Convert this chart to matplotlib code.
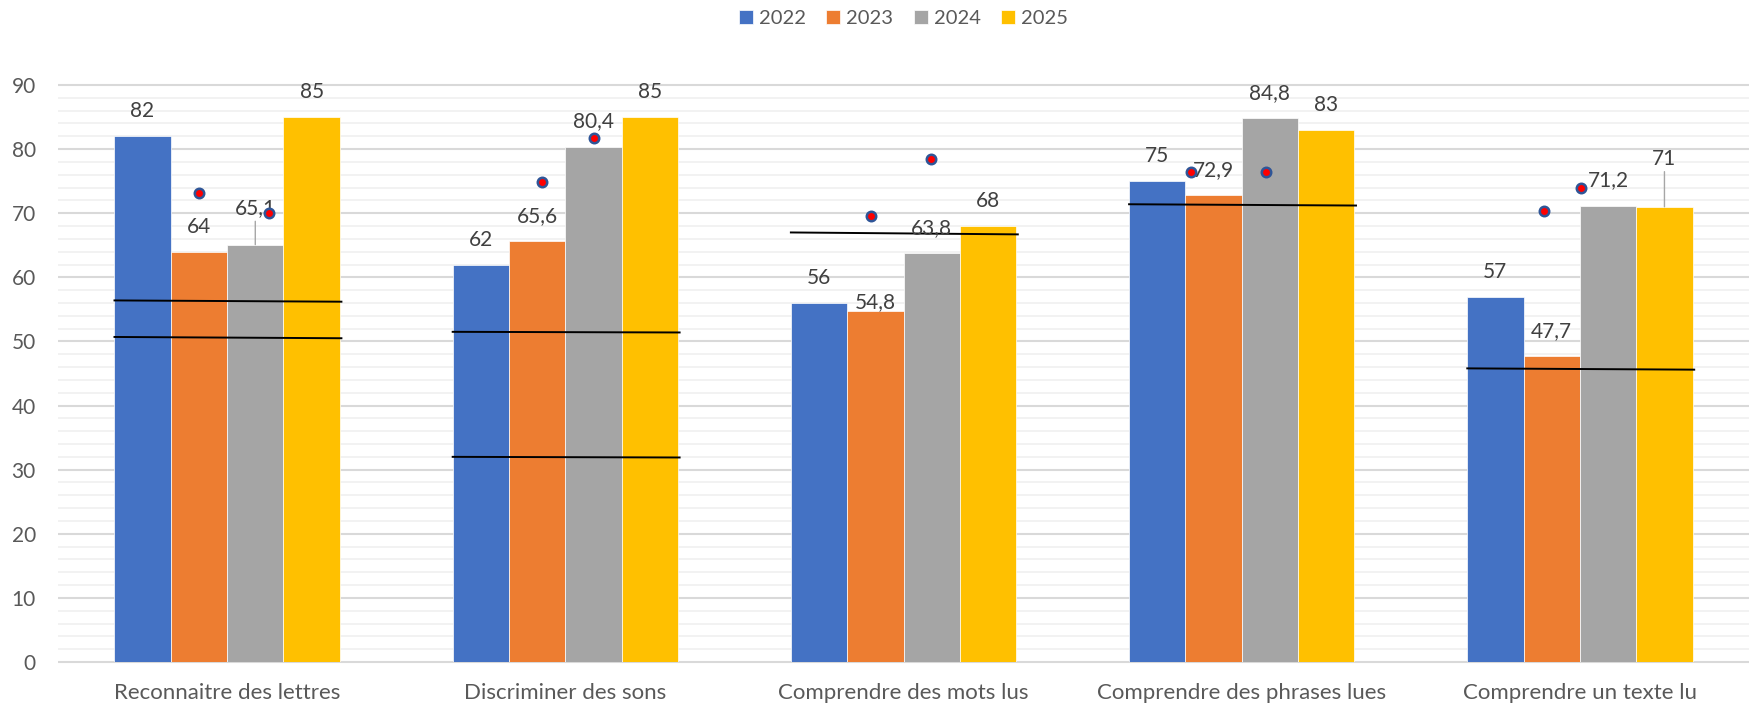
import numpy as np
import matplotlib
matplotlib.use("Agg")
from matplotlib import pyplot as plt

plt.rcParams['font.family'] = ['Lato', 'DejaVu Sans']

categories = ["Reconnaitre des lettres", "Discriminer des sons", "Comprendre des mots lus",
              "Comprendre des phrases lues", "Comprendre un texte lu"]
years = ["2022", "2023", "2024", "2025"]
v2022 = [82, 62, 56, 75, 57]
v2023 = [64, 65.6, 54.8, 72.9, 47.7]
v2024 = [65.1, 80.4, 63.8, 84.8, 71.2]
v2025 = [85, 85, 68, 83, 71]
colors = ["#4472C4", "#ED7D31", "#A5A5A5", "#FFC000"]

# red points (two per group) and where they sit inside the group
dots_a = [73.2, 74.9, 69.5, 76.4, 70.4]
dots_a_dx = [-0.083, -0.069, -0.097, -0.149, -0.107]
dots_b = [70.0, 81.8, 78.4, 76.4, 73.9]
dots_b_dx = [0.124, 0.084, 0.081, 0.071, 0.003]

# black reference lines across each group (left value, right value)
ref_a = [(56.4, 56.2), (51.5, 51.4), (67.0, 66.7), (71.4, 71.2), (45.8, 45.6)]
ref_b = [(50.7, 50.5), (32.0, 31.9), None, None, None]

fig = plt.figure(figsize=(17.56, 7.05), dpi=100)
ax = fig.add_axes([58 / 1756, 1 - 662 / 705, (1749 - 58) / 1756, (662 - 85) / 705])

x = np.arange(len(categories))
w = 1 / 6
series = [v2022, v2023, v2024, v2025]

# grid
ax.hlines(np.arange(0, 91, 2), -0.5, 4.5, color="#efefef", lw=1.1, zorder=0, clip_on=False)
ax.hlines(np.arange(0, 91, 10), -0.5, 4.5, color="#d9d9d9", lw=1.5, zorder=0.5, clip_on=False)

bars = []
for j, vals in enumerate(series):
    b = ax.bar(x + (j - 1.5) * w, vals, w, color=colors[j], edgecolor="#ffffff",
               linewidth=0.5, zorder=2, label=years[j])
    bars.append(b)

# data labels (category, year) -> offset in points; a few were moved in the original
offsets = {(2, 1): 6, (0, 2): 26, (4, 3): 34.5}
leaders = [(0, 2), (4, 3)]
for j, vals in enumerate(series):
    for i, v in enumerate(vals):
        txt = ("%g" % v).replace(".", ",")
        dy = offsets.get((i, j), 18)
        xp = x[i] + (j - 1.5) * w
        kw = {}
        if (i, j) in leaders:
            kw["arrowprops"] = dict(arrowstyle="-", color="#a6a6a6", lw=1,
                                    shrinkA=0, shrinkB=0)
        ax.annotate(txt, (xp, v), xytext=(0, dy), textcoords="offset points",
                    ha="center", va="center", fontsize=15, color="#404040",
                    zorder=4, **kw)

for i in range(len(categories)):
    for ref in (ref_a[i], ref_b[i]):
        if ref is not None:
            ax.plot([x[i] - 0.333, x[i] + 0.338], list(ref), color="black", lw=1.4, zorder=3)

ax.plot(x + np.array(dots_a_dx), dots_a, "o", ms=6.8, mfc="#ff0000", mec="#2f5597",
        mew=1.8, zorder=5)
ax.plot(x + np.array(dots_b_dx), dots_b, "o", ms=6.8, mfc="#ff0000", mec="#2f5597",
        mew=1.8, zorder=5)

ax.set_xlim(-0.5, 4.5)
ax.set_ylim(0, 90)
ax.set_yticks(np.arange(0, 91, 10))
ax.set_xticks(x)
ax.set_xticklabels(categories)
ax.tick_params(axis="both", length=0, labelsize=15, labelcolor="#595959")
ax.tick_params(axis="x", pad=15, labelsize=16)
ax.tick_params(axis="y", pad=16)
for s in ax.spines.values():
    s.set_visible(False)

fig.legend(handles=bars, loc="center", bbox_to_anchor=((58 + 1749) / 2 / 1756, 1 - 18.5 / 705),
           ncol=4, frameon=False, fontsize=14.5, handlelength=0.7, handleheight=0.7,
           handletextpad=0.3, columnspacing=1.0, labelcolor="#595959")

fig.savefig("out.png", dpi=100)
